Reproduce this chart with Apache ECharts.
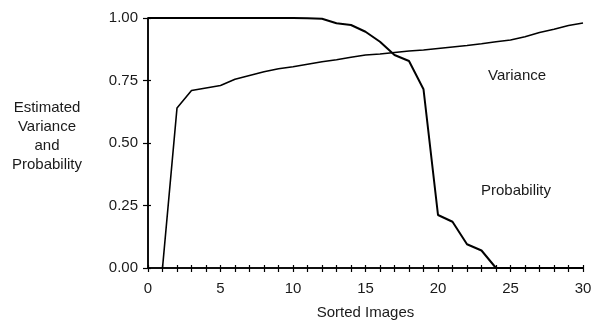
<!DOCTYPE html>
<html><head><meta charset="utf-8">
<script src="https://cdn.jsdelivr.net/npm/echarts@6/dist/echarts.min.js"></script>
<style>html,body{margin:0;padding:0;background:#fff}#c{width:596px;height:321px}</style>
</head><body><div id="c"></div>
<script>
var xs = [0,1,2,3,4,5,6,7,8,9,10,11,12,13,14,15,16,17,18,19,20,21,22,23,24,25,26,27,28,29,30];
var variance = [null,0,0.64,0.71,0.72,0.73,0.755,0.77,0.785,0.797,0.805,0.815,0.825,0.833,0.843,0.852,0.856,0.862,0.868,0.872,0.878,0.884,0.89,0.897,0.905,0.912,0.925,0.942,0.955,0.97,0.98];
var probability = [1,1,1,1,1,1,1,1,1,1,1,0.999,0.997,0.979,0.972,0.945,0.905,0.852,0.828,0.715,0.212,0.185,0.095,0.07,0,0,0,0,0,0,0];
var yTicks = [0,0.25,0.5,0.75,1];
var seriesNames = ['Variance','Probability'];
var yAxisTitle = 'Estimated\nVariance\nand\nProbability';
var xAxisTitle = 'Sorted Images';

function pairs(v){ return xs.map(function(x,i){ return [x, v[i]]; }); }
var font = 'Liberation Sans';
var txt = '#1a1a1a';
var chart = echarts.init(document.getElementById('c'));
var baseX = {type:'value',min:0,max:30,interval:1,
  axisLine:{show:true,lineStyle:{color:'#000',width:1.5}},
  splitLine:{show:false}};
var baseY = {type:'value',min:0,max:1,interval:0.25,
  axisLine:{show:true,lineStyle:{color:'#000',width:1.5}},
  splitLine:{show:false}};
chart.setOption({
  animation:false,
  grid:{left:148,right:13,top:18,bottom:53,containLabel:false,outerBoundsMode:'none'},
  xAxis:[
    Object.assign({},baseX,{position:'bottom',
      axisTick:{show:true,inside:false,length:4,lineStyle:{color:'#000',width:1.2}},
      axisLabel:{margin:13,color:txt,fontFamily:font,fontSize:15,
        formatter:function(v){return v%5===0?String(v):'';}},
      name:xAxisTitle,nameLocation:'middle',nameGap:37,
      nameTextStyle:{color:txt,fontFamily:font,fontSize:15}}),
    Object.assign({},baseX,{position:'bottom',
      axisTick:{show:true,inside:true,length:3,lineStyle:{color:'#000',width:1.2}},
      axisLabel:{show:false}})
  ],
  yAxis:[
    Object.assign({},baseY,{position:'left',
      axisTick:{show:true,inside:false,length:5,lineStyle:{color:'#000',width:1.2}},
      axisLabel:{margin:10,color:txt,fontFamily:font,fontSize:15,
        formatter:function(v){return v.toFixed(2);}}}),
    Object.assign({},baseY,{position:'left',
      axisTick:{show:true,inside:true,length:3,lineStyle:{color:'#000',width:1.2}},
      axisLabel:{show:false}})
  ],
  graphic:[
    {type:'text',x:47,y:98,style:{text:yAxisTitle,fill:txt,font:'15px "Liberation Sans"',
      textAlign:'center',textVerticalAlign:'top',lineHeight:19}},
    {type:'text',x:488,y:68,style:{text:seriesNames[0],fill:txt,font:'15px "Liberation Sans"'}},
    {type:'text',x:481,y:183,style:{text:seriesNames[1],fill:txt,font:'15px "Liberation Sans"'}}
  ],
  series:[
    {name:seriesNames[0],type:'line',data:pairs(variance),showSymbol:false,connectNulls:false,
      lineStyle:{color:'#000',width:1.6}},
    {name:seriesNames[1],type:'line',data:pairs(probability),showSymbol:false,
      lineStyle:{color:'#000',width:2}}
  ]
});
</script></body></html>
